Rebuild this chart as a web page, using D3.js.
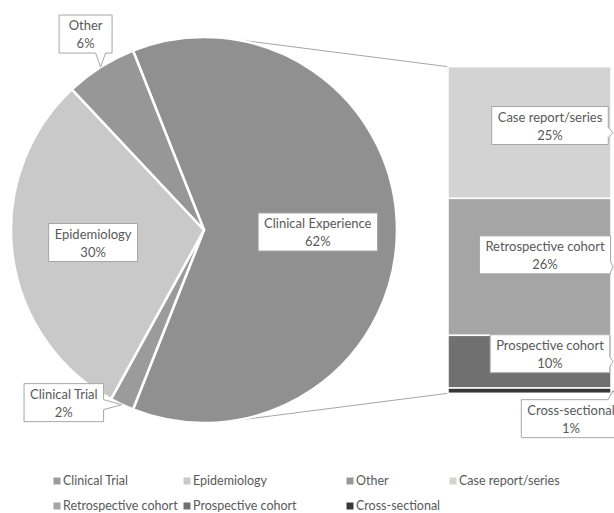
<!DOCTYPE html>
<html>
<head>
<meta charset="utf-8">
<script src="https://cdn.jsdelivr.net/npm/d3@7"></script>
<style>
  body { margin: 0; background: #fff; }
  svg { display: block; font-family: Lato, "Liberation Sans", sans-serif; }
</style>
</head>
<body>
<div id="chart"></div>
<script>
// pie data (Clinical Experience is split out into the bar)
const pieCategories = ['Clinical Experience', 'Clinical Trial', 'Epidemiology', 'Other'];
const pieValues = [62, 2, 30, 6];
const pieColors = ['#909090', '#9b9b9b', '#c9c9c9', '#979797'];

// bar data (breakdown of Clinical Experience)
const barCategories = ['Case report/series', 'Retrospective cohort', 'Prospective cohort', 'Cross-sectional'];
const barValues = [25, 26, 10, 1];
const barColors = ['#d3d3d3', '#a5a5a5', '#707070', '#383838'];

// legend order as in the chart
const legendCategories = ['Clinical Trial', 'Epidemiology', 'Other', 'Case report/series',
    'Retrospective cohort', 'Prospective cohort', 'Cross-sectional'];

const width = 614, height = 513;
const textColor = '#595959';
const lineColor = '#a6a6a6';

const svg = d3.select('#chart').append('svg')
    .attr('width', width)
    .attr('height', height);

// pie geometry
const cx = 204, cy = 230, r = 193;
const total = d3.sum(pieValues);
const start = Math.PI / 2 - Math.PI * pieValues[0] / total;

const pie = d3.pie().sort(null).value(d => d)
    .startAngle(start).endAngle(start + 2 * Math.PI);
const arcs = pie(pieValues);
const arc = d3.arc().innerRadius(0).outerRadius(r);

// bar geometry
const barX = 448, barW = 163;
const y = d3.scaleLinear().domain([0, d3.sum(barValues)]).range([66.7, 393.3]);
const stacked = [];
let acc = 0;
barValues.forEach((v, i) => { stacked.push({ i, y0: acc, y1: acc + v }); acc += v; });

// connector lines, tangent to the pie from the bar corners
function tangent(px, py, upper) {
    const dx = px - cx, dy = py - cy;
    const d = Math.hypot(dx, dy);
    const a = Math.atan2(dy, dx) + (upper ? -1 : 1) * Math.acos(r / d);
    return [cx + r * Math.cos(a), cy + r * Math.sin(a)];
}
[[y(0), true], [y(d3.sum(barValues)), false]].forEach(([py, up]) => {
    const t = tangent(barX, py, up);
    svg.append('line')
        .attr('x1', t[0]).attr('y1', t[1])
        .attr('x2', barX).attr('y2', py)
        .attr('stroke', lineColor).attr('stroke-width', 1);
});

const gPie = svg.append('g').attr('transform', `translate(${cx},${cy})`);
gPie.selectAll('path')
    .data(arcs)
    .join('path')
    .attr('d', arc)
    .attr('fill', (d, i) => pieColors[i])
    .attr('stroke', '#fff')
    .attr('stroke-width', 2.5)
    .attr('stroke-linejoin', 'round');

svg.append('g').selectAll('rect')
    .data(stacked)
    .join('rect')
    .attr('x', barX)
    .attr('y', d => y(d.y0))
    .attr('width', barW)
    .attr('height', d => y(d.y1) - y(d.y0))
    .attr('fill', d => barColors[d.i])
    .attr('stroke', '#fff')
    .attr('stroke-width', 1.5);

// callout label: box centred at (bx, by), optional pointer to tip
function callout(lines, bx, by, tip, minW) {
    const g = svg.append('g');
    const txt = g.append('text')
        .attr('text-anchor', 'middle')
        .attr('fill', textColor)
        .style('font-size', '13px');
    lines.forEach((s, k) => {
        txt.append('tspan').attr('x', bx).attr('y', by + (k === 0 ? -4 : 14)).text(s);
    });
    const tw = d3.max(txt.selectAll('tspan').nodes(), n => n.getComputedTextLength());
    const w = Math.max(tw + 12, minW || 0), h = 38;
    const x0 = bx - w / 2, x1 = bx + w / 2, y0 = by - h / 2, y1 = by + h / 2;
    let pts;
    if (!tip) {
        pts = [[x0, y0], [x1, y0], [x1, y1], [x0, y1]];
    } else {
        const [tx, ty] = tip;
        const hw = 5;
        if (tx > x1) {
            const c = Math.max(y0 + hw, Math.min(y1 - hw, ty));
            pts = [[x0, y0], [x1, y0], [x1, c - hw], [tx, ty], [x1, c + hw], [x1, y1], [x0, y1]];
        } else if (ty > y1) {
            const c = Math.max(x0 + hw, Math.min(x1 - hw, tx));
            pts = [[x0, y0], [x1, y0], [x1, y1], [c + hw, y1], [tx, ty], [c - hw, y1], [x0, y1]];
        } else if (ty < y0) {
            const c = Math.max(x0 + hw, Math.min(x1 - hw, tx));
            pts = [[x0, y0], [c - hw, y0], [tx, ty], [c + hw, y0], [x1, y0], [x1, y1], [x0, y1]];
        } else {
            const c = Math.max(y0 + hw, Math.min(y1 - hw, ty));
            pts = [[x0, y0], [x1, y0], [x1, y1], [x0, y1], [x0, c + hw], [tx, ty], [x0, c - hw]];
        }
    }
    g.insert('path', 'text')
        .attr('d', 'M' + pts.map(p => p.join(',')).join('L') + 'Z')
        .attr('fill', '#fff')
        .attr('stroke', lineColor)
        .attr('stroke-width', 1);
}

const pct = v => Math.round(v / total * 100) + '%';
const onEdge = a => [cx + r * Math.sin(a), cy - r * Math.cos(a)];
const labelArc = d3.arc().innerRadius(0).outerRadius(2 * 0.6 * r);

// pie labels
const ce = arcs[0], ct = arcs[1], ep = arcs[2], ot = arcs[3];
const ceC = labelArc.centroid(ce);
callout([pieCategories[0], pct(pieValues[0])], cx + ceC[0] - 2, cy + ceC[1] + 2, null);
const epC = labelArc.centroid(ep);
callout([pieCategories[2], pct(pieValues[2])], cx + epC[0] + 4, cy + epC[1] - 2, null);
const otTip = onEdge((ot.startAngle + ot.endAngle) / 2);
callout([pieCategories[3], pct(pieValues[3])], otTip[0] - 15, otTip[1] - 33, otTip, 53);
const ctTip = onEdge((ct.startAngle + ct.endAngle) / 2);
callout([pieCategories[1], pct(pieValues[1])], ctTip[0] - 58, ctTip[1] - 2, ctTip);

// bar labels
const barOffsets = [[-63, -7], [-68, -12], [-63, -8], [-42, 28]];
stacked.forEach(d => {
    const tip = [barX + barW + 2, (y(d.y0) + y(d.y1)) / 2];
    const o = barOffsets[d.i];
    callout([barCategories[d.i], pct(barValues[d.i])], tip[0] + o[0], tip[1] + o[1], tip);
});

// legend
const legendColors = {};
pieCategories.forEach((c, i) => legendColors[c] = pieColors[i]);
barCategories.forEach((c, i) => legendColors[c] = barColors[i]);
const legendCols = [57, 187, 350, 453];
const legendRows = [481, 506];
const lg = svg.append('g').selectAll('g')
    .data(legendCategories)
    .join('g')
    .attr('transform', (d, i) => `translate(${legendCols[i % 4]},${legendRows[Math.floor(i / 4)]})`);
lg.append('rect')
    .attr('x', -3.5).attr('y', -3.5)
    .attr('width', 7).attr('height', 7)
    .attr('fill', d => legendColors[d]);
lg.append('text')
    .attr('x', 6)
    .attr('dy', '0.35em')
    .attr('fill', textColor)
    .style('font-size', '12.5px')
    .text(d => d);
</script>
</body>
</html>
